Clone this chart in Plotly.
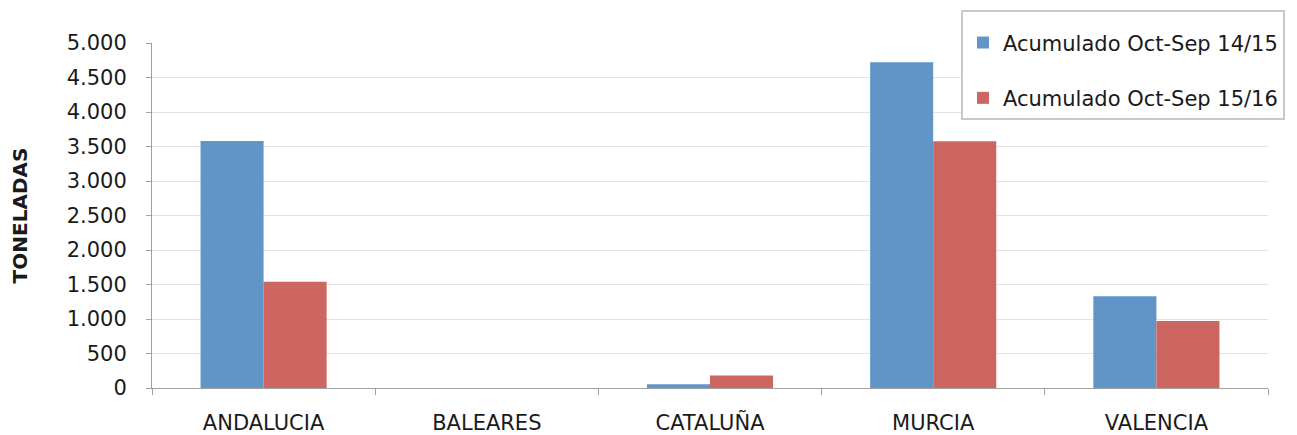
import plotly.graph_objects as go

regiones = ["ANDALUCIA", "BALEARES", "CATALUÑA", "MURCIA", "VALENCIA"]
acum_14_15 = [3580, 0, 55, 4720, 1330]
acum_15_16 = [1540, 0, 180, 3575, 970]
y_ticks = [0, 500, 1000, 1500, 2000, 2500, 3000, 3500, 4000, 4500, 5000]

fig = go.Figure()
fig.add_trace(go.Bar(
    x=regiones, y=acum_14_15, name="Acumulado Oct-Sep 14/15",
    marker=dict(color="#6195C8", line=dict(width=0)), legendgroup="a",
))
fig.add_trace(go.Bar(
    x=regiones, y=acum_15_16, name="Acumulado Oct-Sep 15/16",
    marker=dict(color="#CD6660", line=dict(width=0)), legendgroup="b",
))

# la página añade 8 px de margen al div, se compensa aquí
fig.update_layout(
    width=1289, height=427,
    margin=dict(l=144, r=29, t=35, b=47, autoexpand=False),
    plot_bgcolor="white", paper_bgcolor="white",
    font=dict(family="DejaVu Sans", size=21, color="#1A1A1A"),
    barmode="group", bargap=0.435, bargroupgap=0,
    separators=",.",
    legend=dict(
        x=0.7249, y=1.0957, xanchor="left", yanchor="top",
        bordercolor="#C8C8C8", borderwidth=2, bgcolor="white",
        font=dict(size=21), tracegroupgap=25, traceorder="grouped",
        title=dict(text=" ", font=dict(size=8)),
    ),
)
fig.update_xaxes(
    showline=True, linecolor="#A0A0A0", linewidth=1,
    ticks="outside", tickson="boundaries", ticklen=6, tickcolor="#A0A0A0",
    showgrid=False, tickfont=dict(size=21), ticklabelstandoff=16,
)
fig.update_yaxes(
    range=[0, 5000], tickvals=y_ticks, tickformat=",d",
    showline=True, linecolor="#A0A0A0", linewidth=1,
    ticks="outside", ticklen=5, tickcolor="#A0A0A0",
    gridcolor="#E3E3E3", gridwidth=1, zeroline=False,
    tickfont=dict(size=21), ticklabelstandoff=15,
    title=dict(text="<b>TONELADAS</b>", font=dict(size=20), standoff=34),
)

fig.write_html("out.html")
